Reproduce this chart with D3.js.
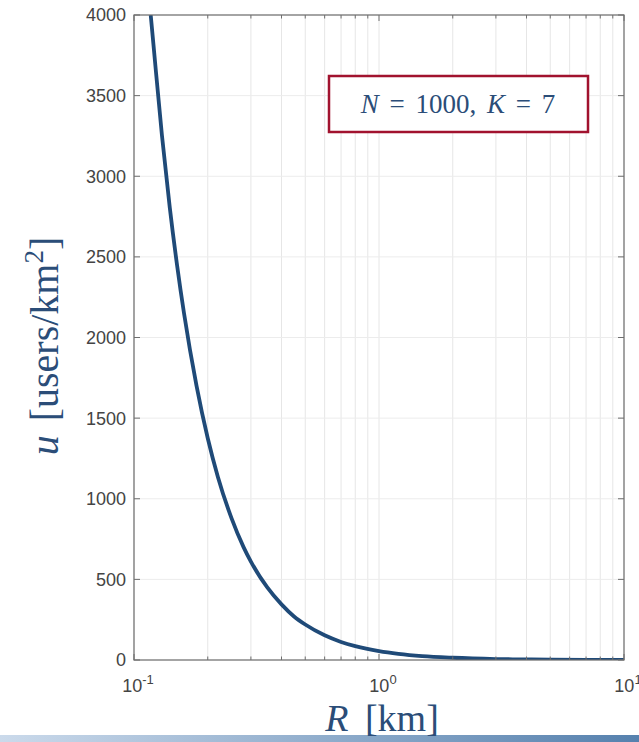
<!DOCTYPE html>
<html>
<head>
<meta charset="utf-8">
<script src="https://cdn.jsdelivr.net/npm/d3@7"></script>
<style>
  body { margin: 0; background: #fff; }
  svg { display: block; }
</style>
</head>
<body>
<div id="chart"></div>
<script>
// cell radius R [km] and user density u [users/km^2]
var radius = [0.117, 0.12, 0.13, 0.14, 0.15, 0.16, 0.18, 0.2, 0.22, 0.25, 0.28, 0.3,
  0.35, 0.4, 0.45, 0.5, 0.6, 0.7, 0.8, 1, 1.2, 1.5, 2, 3, 4, 5, 7, 10];
var density = [4000, 3820, 3255, 2805, 2445, 2150, 1700, 1375, 1135, 880, 700, 610,
  450, 345, 270, 220, 153, 112, 86, 55, 38, 24, 14, 6, 3.4, 2.2, 1.1, 0.55];

var yTicks = [0, 500, 1000, 1500, 2000, 2500, 3000, 3500, 4000];
var xMajor = [0.1, 1, 10];
var xExponents = ["-1", "0", "1"];
var legendText = ["N", " = 1000, ", "K", " = 7"];

var W = 639, H = 742;
var margin = { top: 15, right: 15, bottom: 82, left: 134 };
var width = W - margin.left - margin.right,
  height = H - margin.top - margin.bottom;

var svg = d3.select("#chart").append("svg")
  .attr("width", W)
  .attr("height", H);

// bottom band gradient
var defs = svg.append("defs");
var band = defs.append("linearGradient").attr("id", "band")
  .attr("x1", "0%").attr("x2", "100%");
band.append("stop").attr("offset", "0%").attr("stop-color", "#cbdaeb");
band.append("stop").attr("offset", "100%").attr("stop-color", "#5681ae");
defs.append("clipPath").attr("id", "clip")
  .append("rect").attr("width", width).attr("height", height);

svg.append("rect")
  .attr("x", 0).attr("y", 735).attr("width", W).attr("height", 7)
  .attr("fill", "url(#band)");

var g = svg.append("g")
  .attr("transform", "translate(" + margin.left + "," + margin.top + ")");

var x = d3.scaleLog().domain([0.1, 10]).range([0, width]);
var y = d3.scaleLinear().domain([0, 4000]).range([height, 0]);

// all log ticks (1..9 per decade)
var xAll = [];
[0.1, 1].forEach(function (d) {
  for (var i = 1; i <= 9; i++) xAll.push(d * i);
});
xAll.push(10);

// grid
g.append("g").selectAll("line").data(xAll).enter().append("line")
  .attr("x1", function (d) { return x(d); })
  .attr("x2", function (d) { return x(d); })
  .attr("y1", 0).attr("y2", height)
  .attr("stroke", "#e6e6e6").attr("stroke-width", 1);
g.append("g").selectAll("line").data(yTicks).enter().append("line")
  .attr("x1", 0).attr("x2", width)
  .attr("y1", function (d) { return y(d); })
  .attr("y2", function (d) { return y(d); })
  .attr("stroke", "#ececec").attr("stroke-width", 1);

// curve
var line = d3.line()
  .x(function (d) { return x(d[0]); })
  .y(function (d) { return y(d[1]); })
  .curve(d3.curveMonotoneX);

g.append("path")
  .datum(d3.zip(radius, density))
  .attr("clip-path", "url(#clip)")
  .attr("d", line)
  .attr("fill", "none")
  .attr("stroke", "#1f4a78")
  .attr("stroke-width", 3.8);

// ticks, inward, on all four sides
var axisColor = "#6e6e6e";
var ticks = g.append("g").attr("stroke", axisColor).attr("stroke-width", 1);
xAll.forEach(function (d) {
  var len = xMajor.indexOf(d) >= 0 ? 6 : 3.5;
  ticks.append("line").attr("x1", x(d)).attr("x2", x(d))
    .attr("y1", height).attr("y2", height - len);
  ticks.append("line").attr("x1", x(d)).attr("x2", x(d))
    .attr("y1", 0).attr("y2", len);
});
yTicks.forEach(function (d) {
  ticks.append("line").attr("x1", 0).attr("x2", 6)
    .attr("y1", y(d)).attr("y2", y(d));
  ticks.append("line").attr("x1", width).attr("x2", width - 6)
    .attr("y1", y(d)).attr("y2", y(d));
});

// frame
g.append("rect")
  .attr("width", width).attr("height", height)
  .attr("fill", "none").attr("stroke", axisColor).attr("stroke-width", 1.2);

// tick labels
var labelFont = "Liberation Sans, Arial, sans-serif";
g.append("g").selectAll("text").data(yTicks).enter().append("text")
  .attr("x", -8)
  .attr("y", function (d) { return y(d); })
  .attr("dy", "0.36em")
  .attr("text-anchor", "end")
  .attr("font-family", labelFont)
  .attr("font-size", 18)
  .attr("fill", "#444")
  .text(function (d) { return d; });

var xl = g.append("g").selectAll("text").data(xMajor).enter().append("text")
  .attr("x", function (d) { return x(d) + 4; })
  .attr("y", height + 32)
  .attr("text-anchor", "middle")
  .attr("font-family", labelFont)
  .attr("font-size", 18)
  .attr("fill", "#444");
xl.append("tspan").text("10");
xl.append("tspan")
  .attr("dy", -8)
  .attr("font-size", 13)
  .text(function (d, i) { return xExponents[i]; });

// axis titles (latex look)
var titleColor = "#2b4d78";
var xt = svg.append("text")
  .attr("x", 382)
  .attr("y", 731)
  .attr("text-anchor", "middle")
  .attr("font-family", "Liberation Serif, serif")
  .attr("font-size", 38)
  .attr("word-spacing", 7)
  .attr("fill", titleColor);
xt.append("tspan").attr("font-style", "italic").text("R");
xt.append("tspan").text(" [km]");

var yt = svg.append("text")
  .attr("transform", "translate(58,346) rotate(-90)")
  .attr("text-anchor", "middle")
  .attr("font-family", "Liberation Serif, serif")
  .attr("font-size", 40)
  .attr("word-spacing", 4)
  .attr("fill", titleColor);
yt.append("tspan").attr("font-style", "italic").text("u");
yt.append("tspan").text(" [users/km");
yt.append("tspan").attr("dy", -15).attr("font-size", 27).text("2");
yt.append("tspan").attr("dy", 15).text("]");

// legend box
svg.append("rect")
  .attr("x", 329).attr("y", 76)
  .attr("width", 259).attr("height", 56)
  .attr("fill", "#fff")
  .attr("stroke", "#a1122e")
  .attr("stroke-width", 2.5);
var lt = svg.append("text")
  .attr("x", 458).attr("y", 113)
  .attr("text-anchor", "middle")
  .attr("font-family", "Liberation Serif, serif")
  .attr("font-size", 27)
  .attr("word-spacing", 4)
  .attr("fill", titleColor);
legendText.forEach(function (s, i) {
  lt.append("tspan")
    .attr("font-style", i % 2 === 0 ? "italic" : "normal")
    .text(s);
});
</script>
</body>
</html>
